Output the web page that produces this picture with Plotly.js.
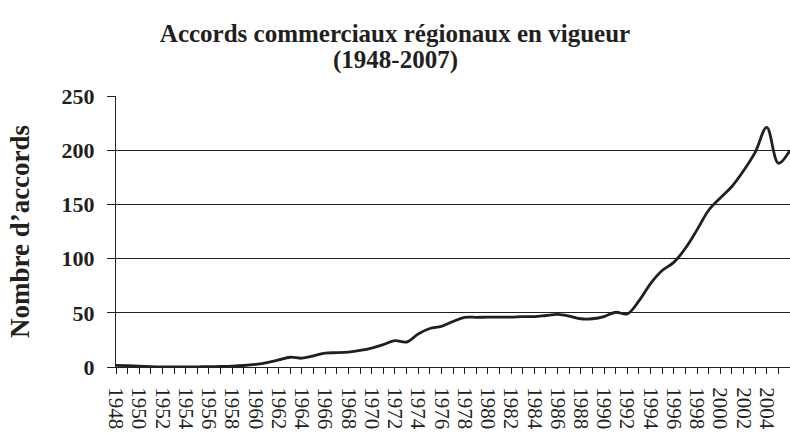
<!DOCTYPE html>
<html>
<head>
<meta charset="utf-8">
<script src="https://cdn.plot.ly/plotly-3.0.1.min.js"></script>
<style>
  html, body { margin: 0; padding: 0; background: #ffffff; }
  #chart { width: 790px; height: 433px; }
</style>
</head>
<body>
<div id="chart"></div>
<script>
// Years (categories)
const years = [
  1948, 1949, 1950, 1951, 1952, 1953, 1954, 1955, 1956, 1957,
  1958, 1959, 1960, 1961, 1962, 1963, 1964, 1965, 1966, 1967,
  1968, 1969, 1970, 1971, 1972, 1973, 1974, 1975, 1976, 1977,
  1978, 1979, 1980, 1981, 1982, 1983, 1984, 1985, 1986, 1987,
  1988, 1989, 1990, 1991, 1992, 1993, 1994, 1995, 1996, 1997,
  1998, 1999, 2000, 2001, 2002, 2003, 2004, 2005, 2006
];

// Number of regional trade agreements in force
const accords = [
  1.5, 1.2, 0.8, 0.4, 0.2, 0.2, 0.2, 0.2, 0.3, 0.5,
  0.8, 1.4, 2.4, 4.0, 6.5, 9.0, 8.1, 10.3, 12.9, 13.2,
  13.8, 15.3, 17.5, 20.7, 24.3, 23.0, 30.4, 35.5, 37.5, 42.0,
  45.8, 45.8, 46.0, 46.0, 46.0, 46.5, 46.5, 47.5, 48.5, 47.0,
  44.5, 44.5, 46.5, 50.5, 49.0, 61.0, 77.0, 89.0, 96.5, 109.5,
  126.5, 144.6, 156.0, 166.5, 181.0, 198.0, 221.0, 188.0, 200.0
];

// Tick labels shown on the x axis (every other year)
const xTickLabels = [
  '1948', '1950', '1952', '1954', '1956', '1958', '1960', '1962', '1964', '1966',
  '1968', '1970', '1972', '1974', '1976', '1978', '1980', '1982', '1984', '1986',
  '1988', '1990', '1992', '1994', '1996', '1998', '2000', '2002', '2004'
];

const yTickVals = [0, 50, 100, 150, 200, 250];

const titleLine1 = 'Accords commerciaux régionaux en vigueur';
const titleLine2 = '(1948-2007)';
const yTitle = 'Nombre d’accords';

const ink = '#231f20';

const tickText = years.map(y => xTickLabels.includes(String(y)) ? String(y) : '');

const trace = {
  x: years,
  y: accords,
  type: 'scatter',
  mode: 'lines',
  line: { color: ink, width: 2.8, shape: 'spline', smoothing: 1 },
  hoverinfo: 'x+y'
};

const layout = {
  width: 790,
  height: 433,
  margin: { l: 116, r: 0, t: 96, b: 66 },
  paper_bgcolor: '#ffffff',
  plot_bgcolor: '#ffffff',
  showlegend: false,
  title: {
    text: '<b>' + titleLine1 + '</b>',
    font: { family: 'Liberation Serif, serif', size: 25, color: ink },
    x: 0.5,
    xref: 'container',
    xanchor: 'center',
    y: 1 - 33 / 433,
    yref: 'container',
    yanchor: 'middle'
  },
  annotations: [{
    text: '<b>' + titleLine2 + '</b>',
    font: { family: 'Liberation Serif, serif', size: 25, color: ink },
    xref: 'paper',
    yref: 'paper',
    x: (395 - 116) / 674,
    y: (367 - 60) / 271,
    xanchor: 'center',
    yanchor: 'middle',
    showarrow: false
  }],
  xaxis: {
    range: [1948, 2006],
    tickmode: 'array',
    tickvals: years,
    ticktext: tickText,
    tickangle: 90,
    ticks: 'outside',
    ticklen: 6,
    tickwidth: 1,
    tickcolor: ink,
    ticklabelstandoff: 9,
    showline: true,
    linecolor: ink,
    linewidth: 1,
    showgrid: false,
    zeroline: false,
    tickfont: { family: 'Liberation Serif, serif', size: 21, color: ink },
    fixedrange: true
  },
  yaxis: {
    range: [0, 250],
    tickmode: 'array',
    tickvals: yTickVals,
    ticktext: yTickVals.map(String),
    ticks: 'outside',
    ticklen: 8,
    tickwidth: 1,
    tickcolor: ink,
    ticklabelstandoff: 8,
    showline: true,
    linecolor: ink,
    linewidth: 1,
    showgrid: true,
    gridcolor: ink,
    gridwidth: 1,
    zeroline: false,
    tickfont: { family: 'Liberation Serif, serif', size: 22, color: ink, weight: 'bold' },
    title: {
      text: '<b>' + yTitle + '</b>',
      font: { family: 'Liberation Serif, serif', size: 27, color: ink },
      standoff: 24
    },
    automargin: false,
    fixedrange: true
  }
};

Plotly.newPlot('chart', [trace], layout, { displayModeBar: false, staticPlot: true });
</script>
</body>
</html>
